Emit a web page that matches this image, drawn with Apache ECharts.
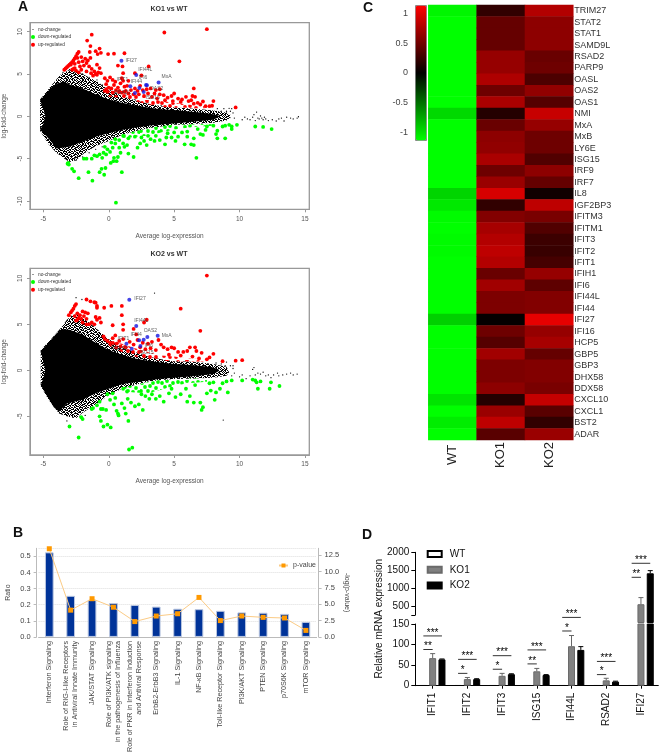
<!DOCTYPE html>
<html><head><meta charset="utf-8">
<style>html,body{margin:0;padding:0;background:#fff}#c{width:660px;height:755px}</style>
<script src="https://cdn.jsdelivr.net/npm/echarts@6/dist/echarts.min.js"></script>
</head><body><div id="c"></div>
<script>
// ---------- Panel A: KO1 vs WT ----------
const ko1SolidCloud=[[-5.25,1.9],[-4.9,2.5],[-4.4,3.4],[-3.9,3.9],[-3.4,4.1],[-2.9,3.7],[-2,3.3],[-1,2.6],[0,2],[1,1.6],[2,1.3],[3,1.05],[4,.85],[5,.75],[6,.6],[7,.45],[8,.25],[8.4,.1],[8.4,-.1],[8,-.4],[7,-.55],[6,-.7],[5,-.85],[4,-.95],[3,-1.1],[2,-1.35],[1,-1.6],[0,-2],[-1,-2.4],[-2,-3],[-3,-3.6],[-4,-3.8],[-4.4,-3],[-4.9,-2.1],[-5.25,-1.6],[-5,-.9],[-4.85,0],[-5,.9]];
const ko1FringeCloud=[[-5.25,2],[-4.4,3.6],[-3.7,4.9],[-3,5.5],[-2,5],[-1.5,4.6],[-1,4.2],[0,3.2],[1,2.4],[2,1.9],[3,1.5],[4,1.2],[5,1.05],[6,.95],[7,.85],[8,.7],[8.8,.5],[9.3,.2],[9.3,-.2],[9,-.5],[8,-.75],[7,-.85],[6,-.95],[5,-1],[4,-1.2],[3,-1.4],[2,-1.75],[1,-2.2],[0,-2.9],[-1,-3.5],[-2,-4.5],[-2.5,-5.2],[-3,-5.4],[-3.5,-4.9],[-4,-4.3],[-4.6,-3.3],[-5.25,-1.7]];
const ko1RedCloud=[[-.4,3.1],[1,2.9],[2,2.6],[3,2.2],[4,1.8],[5,1.6],[6,1.4],[7.3,1.2],[7.3,.9],[6,1],[5,1.05],[4,1.1],[3,1.4],[2,1.8],[1,2.2],[0,2.3]];
const ko1GreenCloud=[[1,-2.2],[2,-1.75],[3,-1.4],[4,-1.1],[5,-1],[6,-.95],[7,-.9],[8,-.9],[8,-1.1],[7,-1.2],[6,-1.35],[5,-1.55],[4,-1.9],[3,-2.3],[2,-2.4],[1,-2.7]];
const ko1NoChange=[[-3.3,-5],[-2.5,-5.2],[-2.4,-4.7],[-2.6,-5],[-2,-4.8],[-1.5,-4.3],[-1,-3.9],[-.5,-3.6],[-3.5,5.2],[-3,5.5],[-2.6,5.2],[-2,5],[-1.5,4.6],[-.9,4.3],[-.5,3.7],[0,3.3],[.6,3],[1.3,2.5],[2,2],[3,1.6],[4,1.3],[8.3,.9],[8.6,.6],[8.8,.9],[9,.5],[9.2,.95],[9.3,.6],[9,.6],[9.4,.9],[9.5,.4],[9.6,-.2],[10.2,-.4],[10.4,-.1],[10.6,-.3],[10.8,-.4],[11,-.1],[11.1,.2],[11.2,-.5],[11.3,.5],[11.4,-.2],[11.5,-.3],[11.6,.05],[11.7,-.2],[11.8,-.4],[11.9,-.1],[12,-.3],[12.2,-.5],[12.5,-.4],[12.8,-.55],[13,-.3],[13.2,-.2],[13.4,-.55],[13.6,-.1],[13.9,-.2],[14.1,-.3],[14.4,-.2],[14.5,-.05]];
const ko1Up=[[-3.4,5.5],[-3.3,5.65],[-3.2,5.8],[-3.1,5.95],[-3,6.1],[-2.9,6.25],[-2.8,6.4],[-2.7,6.6],[-2.6,6.85],[-2.5,7.1],[-2.4,7.4],[-2.3,7.6],[-1.3,9.65],[-1.65,8.95],[-1.4,8.3],[-.7,8],[-1,7.7],[-.85,7.35],[-.6,7.5],[-1.45,7.6],[-.05,7.35],[.4,7.4],[1.2,7.45],[4.25,9.9],[7.5,10.3],[5.4,6.5],[3.05,5.9],[1.05,5.9],[.7,6],[1.1,5.1],[2,5.1],[2.5,4.85],[9.7,1.05],[8,1.8],[7.2,1.75],[6.5,3.3],[-2.9,6.1],[-2.7,5.6],[-2.6,6.2],[-2.5,5.4],[-2.4,6.9],[-2.3,6.4],[-2.2,5.9],[-2.1,7],[-2.1,5.5],[-2,6.5],[-1.9,6],[-1.8,6.8],[-1.7,5.3],[-1.7,6.3],[-1.6,6.6],[-1.5,5.9],[-1.4,6.9],[-1.35,5.1],[-1.3,5.6],[-1.2,4.8],[-1.1,5.3],[-.9,6.1],[-.7,5.7],[-.6,5.1],[-1,5],[-.9,4.9],[-.8,5.2],[-2.3,5.2],[-2.6,5.7],[-2.8,5.5],[-.3,4.5],[-.1,4.2],[.1,4.6],[.3,4.3],[-.2,3.8],[.5,4.1],[.7,3.4],[.9,3.9],[1,4.5],[1.1,4.2],[1.5,4.2],[1.4,3.6],[1.2,3.5],[.4,3.7],[.2,3.3],[-.2,3.2],[0,3.4],[.55,3.1],[.8,3],[1,2.8],[1.3,3],[1.7,3.1],[2,3.3],[2.2,3],[2.4,3.6],[2.6,3.1],[2.9,3.2],[3.2,3.3],[3.6,3.1],[3.9,3.2],[3.9,2.6],[3.5,2.7],[3,2.7],[2.7,2.4],[4.2,2.5],[4.5,2.2],[4.8,2.4],[5,2.7],[5.3,2.1],[5.6,2],[5.9,2.3],[6.1,1.8],[6.4,2.4],[6.6,2.3],[6.3,1.9],[6.8,1.6],[7.4,1.2],[7.7,1.2],[7.9,1.25],[7,1.4],[6.5,1.5],[5.5,1.7],[4.9,1.8],[4.3,1.9],[3.7,2.1],[3.3,2.3],[2.3,2.6],[1.9,2.6],[1.5,2.7],[1.2,2.9],[.3,2.8],[-.1,2.9],[-.3,3]];
const ko1Down=[[-3.15,-5.6],[-3.05,-5.7],[-3.1,-5.5],[-2.8,-6.2],[-2.65,-6.5],[-2.3,-7.3],[-1.55,-6.6],[-1.25,-7.6],[-.7,-6.6],[-.55,-6.2],[-.35,-6.9],[-.25,-6.1],[1,-6.6],[.55,-10.2],[-1.9,-5],[-1.7,-5],[-1.3,-5],[-1.1,-4.6],[-.9,-4.7],[-.7,-4.5],[-.5,-4.9],[-.4,-4.3],[-.3,-3.6],[-.2,-4.5],[-.1,-3.9],[.1,-4.2],[.2,-3.1],[.3,-3.7],[.4,-4.9],[.15,-5.5],[.6,-5.3],[.7,-4.8],[.35,-5.3],[.5,-3.2],[.8,-3.7],[.9,-4.3],[1.1,-3.2],[1.2,-3.6],[1.4,-3.4],[1.5,-4.4],[1.9,-4.8],[2.2,-3.7],[2.4,-3.2],[2.7,-2.9],[2.9,-3.4],[3.2,-2.7],[3.5,-2.9],[3.9,-2.8],[4.3,-3.3],[4.4,-2.5],[4.8,-2.5],[5.1,-2.9],[5.3,-2.4],[5.8,-3.3],[6,-2.4],[6.3,-3.3],[6.5,-3.4],[6.5,-2.6],[6.7,-4.9],[7,-2.1],[7.2,-2.2],[7.4,-1.6],[8.2,-2.1],[8.3,-2.6],[8.9,-2.6],[8.3,-1.7],[8.7,-1.2],[8.9,-1.1],[9.2,-1],[9.4,-1.2],[9.4,-1.5],[9.8,-1],[11.2,-1.2],[11.8,-1.25],[12.45,-1.5],[5.6,-1.9],[5,-1.9],[4.5,-2],[3.6,-2.3],[3,-2.3],[2.5,-2.5],[2,-2.4],[1.5,-2.6],[1.1,-2.3],[.8,-2.8],[.5,-2.7],[6,-1.8],[6.8,-1.5],[7.5,-1.2],[8,-1.1]];
const ko1Genes=[['IFI27',.97,6.57],['IFI44L',2.1,4.88],['MxA',3.81,4],['IFI6',2.85,3.7],['OAS2',2.92,3.66],['IFIT1',1.65,3.54],['IFI44',2.34,3.35],['RSAD2',2,2.76],['ISG15',2.67,2.87]];

// ---------- Panel A: KO2 vs WT ----------
const ko2SolidCloud=[[-5.2,2.1],[-4.6,3],[-4,4],[-3.6,4.5],[-3,4.4],[-2,3.9],[-1,3],[0,2.2],[1,1.7],[2,1.3],[3,1.05],[4,.85],[5,.7],[6,.6],[7,.5],[8,.3],[8.4,.1],[8.4,-.1],[8,-.4],[7,-.55],[6,-.7],[5,-.8],[4,-.9],[3,-1.1],[2,-1.3],[1,-1.5],[0,-2],[-1,-2.5],[-2,-3.2],[-3.2,-3.6],[-3.8,-4.5],[-4.2,-4],[-4.8,-2.6],[-5.2,-1.6],[-5,-.9],[-4.85,0],[-5,.9]];
const ko2FringeCloud=[[-5.2,2.2],[-4.4,3.4],[-3.6,4.7],[-3.2,5.5],[-2.8,6],[-2.4,6.1],[-1.5,5.2],[-1,4.6],[0,3.4],[1,2.5],[2,2],[3,1.5],[4,1.2],[5,1],[6,.95],[7,.85],[8,.7],[9,.4],[9.2,-.2],[9,-.6],[8,-.8],[7,-.85],[6,-.9],[5,-.95],[4,-1.05],[3,-1.2],[2,-1.6],[1,-2],[0,-2.7],[-1,-3.7],[-2,-4.6],[-2.5,-5.2],[-3.2,-5],[-3.8,-4.7],[-4.6,-3.2],[-5.2,-1.7]];
const ko2RedCloud=[[-.3,3.5],[1,2.9],[2,2.4],[3,2],[4,1.6],[5,1.5],[6,1.3],[7.3,1.2],[7.3,.95],[6,.95],[5,1],[4,1.05],[3,1.2],[2,1.5],[1,2],[0,2.7]];
const ko2GreenCloud=[[1.2,-1.8],[2,-1.6],[3,-1.3],[4,-1],[5,-.95],[6,-.9],[7.5,-.85],[7.5,-1.25],[6,-1.4],[5,-1.7],[4,-2.1],[3,-2.5],[2,-2.4],[1.2,-2.3]];
const ko2NoChange=[[3.5,8.4],[-2.5,7.9],[-2.05,7.7],[8.75,-5.4],[-3.2,-5.5],[-2.75,-5.1],[-3,-5],[-2.2,-5],[-1.8,-4.9],[-3.6,-4.7],[8.2,.8],[8.6,.7],[8.9,.5],[9,.9],[9.3,.5],[9.5,.2],[9.5,.5],[9.4,-.6],[9.6,-.3],[10,-.7],[10.2,-.5],[10.5,-.9],[10.8,-.6],[11,.1],[11.1,.3],[11.2,-.5],[11.4,-.3],[11.6,-.4],[11.8,-.2],[12,-.6],[12.2,-.5],[12.4,-.8],[12.6,-.5],[12.9,-.3],[13,-.6],[13.3,-.5],[13.6,-.4],[13.9,-.3],[14.1,-.5],[14.4,-.4]];
const ko2Up=[[7.5,10.3],[5.5,6.7],[7,4.3],[2.9,5.5],[2.7,5.2],[-3.05,6],[-2.9,6.3],[-2.8,6.5],[-2.7,6.7],[-2.6,7],[-2.5,7.2],[-1.7,7.7],[-1.4,7.5],[-1.1,7.4],[-1,7.35],[-.9,7],[-.9,6.8],[-.35,6.8],[.2,7],[1,7],[1,6],[-2.4,6.2],[-2.3,5.7],[-2.2,6],[-2.1,5.6],[-2,6.4],[-1.9,5.9],[-1.8,6.3],[-1.7,5.6],[-1.6,6.2],[-2.4,5.5],[-1.5,5],[-1.3,5.2],[-1.1,5],[-1,5.8],[-.9,5.5],[-.7,5.7],[-.6,5.2],[-2.6,5.9],[-2.5,5.4],[-1.7,5],[-2,5.2],[.3,4.9],[1.1,5],[1.1,4.4],[1.9,4.5],[2.1,3.9],[-.4,3.7],[-.3,3.4],[-.1,3.2],[.1,3],[.3,3.5],[.5,3.8],[.6,2.9],[.8,3.2],[.9,2.6],[1.1,3.4],[1.3,2.5],[1.6,3.1],[1.9,2.8],[2.2,3.3],[2.6,3],[3,2.9],[3.3,3.1],[3.8,3.3],[4,2.8],[4.2,2.5],[4.5,2.3],[4.8,2.5],[5,2.4],[5.3,2],[5.7,2],[6,2.1],[6.2,2.5],[6.6,2.5],[6.7,2.1],[7.1,1.9],[7.7,1.4],[8,1.8],[7.5,1.2],[6.9,1.3],[6.4,1.5],[5.5,1.6],[4.6,1.7],[3.6,2.2],[3.2,2.4],[2.8,2.3],[2.4,2.5],[8.7,1],[9.7,1.05],[10.2,1.1]];
const ko2Down=[[-3,-6.1],[-2.3,-7.3],[-2.1,-5.1],[-2,-5.3],[-1.3,-4.2],[-1.2,-4.1],[-.9,-3.8],[-.7,-3.4],[-.6,-4.2],[-.45,-4.2],[-.7,-5],[-.6,-5.5],[-.4,-6.1],[-.1,-5.9],[.15,-6.2],[-.2,-4.3],[-.1,-2.6],[.1,-3.2],[.3,-2.5],[.4,-3.7],[.5,-3],[.6,-4.4],[.7,-4.7],[.75,-4.9],[1,-3.6],[1.2,-4.1],[1.3,-4.7],[1.5,-5.5],[1.55,-8.6],[1.8,-8.4],[1.45,-3.1],[1.7,-3.5],[2,-3.9],[2.3,-3.7],[2.6,-4.3],[2.8,-2.8],[3.1,-3.1],[3.6,-3.1],[3.9,-2.8],[4.2,-3.4],[4.6,-2.5],[5.1,-2.9],[5.5,-2.6],[6,-3.4],[6.2,-2.8],[6.5,-3.5],[7,-3.5],[7.1,-4.3],[7.2,-4],[7.5,-2.5],[7.8,-2.2],[8.1,-3.2],[8.2,-2.4],[8.5,-2],[8.7,-1.4],[9.1,-2.4],[9,-1.2],[9.4,-1.1],[10.2,-1.1],[11,-1],[11.2,-1.1],[11.3,-1.3],[11.4,-2],[11.6,-1.2],[12.3,-2],[12.4,-1.3],[13.05,-1.7],[1.1,-2],[1.4,-2.3],[2.5,-2.6],[3.3,-2.6],[4.8,-2],[5.9,-2],[6.6,-1.6],[7.7,-1.4],[8,-1.3]];
const ko2Genes=[['IFI27',1.57,7.68],['IFI44L',2.1,4.82],['OAS2',2.95,3.62],['MxA',3.74,3.77],['IFI44',2.32,3.26],['IFIT1',1.35,2.9],['IFI6',2.67,3.33],['RSAD2',1.76,2.36],['ISG15',2.42,2.64]];

const maTicksX=[-5,0,5,10,15];
const ko1TicksY=[-10,-5,0,5,10];
const ko2TicksY=[-5,0,5,10];

// ---------- Panel B ----------
const pathways=['Interferon Signaling','Role of RIG-I-like Receptors\nin Antiviral Innate Immunity','JAK/STAT Signaling','Role of PI3K/ATK signaling\nin the pathogenesis of Influenza','Role of PKR in Interferon Induction\nand Antiviral Response','ErbB2-ErbB3 Signaling','IL-1 Signaling','NF-κB Signaling','Toll-like Receptor Signaling','PI3K/AKT Signaling','PTEN Signaling','p70S6K Signaling','mTOR Signaling'];
const ratioValues=[.525,.255,.23,.21,.198,.188,.175,.172,.162,.152,.15,.143,.093];
const pValues=[13.5,4.1,5.85,4.55,2.35,3.2,3.55,6.05,2.5,3.2,3,2.9,1];

// ---------- Panel C ----------
const heatGenes=['TRIM27','STAT2','STAT1','SAMD9L','RSAD2','PARP9','OASL','OAS2','OAS1','NMI','MxA','MxB','LY6E','ISG15','IRF9','IRF7','IL8','IGF2BP3','IFITM3','IFITM1','IFIT3','IFIT2','IFIT1','IFIH1','IFI6','IFI44L','IFI44','IFI27','IFI16','HCP5','GBP5','GBP3','DHX58','DDX58','CXCL10','CXCL1','BST2','ADAR'];
const heatSamples=['WT','KO1','KO2'];
const wtValues=[-1.1,-1.14,-1.14,-1.14,-1.14,-1.14,-1.14,-1.14,-1.14,-.97,-1.14,-1.14,-1.14,-1.14,-1.14,-1.14,-.95,-1.04,-1.12,-1.14,-1.12,-1.12,-1.14,-1.14,-1.14,-1.14,-1.14,-.93,-1.14,-1.14,-1.14,-1.14,-1.14,-1.14,-1.02,-1.14,-1.06,-1.14];
const ko1Values=[.22,.45,.45,.45,.67,.67,.78,.49,.76,.16,.47,.63,.65,.76,.49,.69,.96,.22,.58,.74,.8,.85,.8,.47,.72,.56,.56,.02,.49,.38,.72,.56,.56,.63,.16,.69,.85,.4];
const ko2Values=[.8,.63,.63,.63,.47,.49,.34,.65,.38,.89,.67,.49,.49,.36,.63,.45,.07,.85,.54,.36,.27,.25,.31,.67,.42,.58,.58,1.03,.67,.74,.45,.58,.58,.54,.87,.4,.22,.69];
const colorbarTicks=[-1,-.5,0,.5,1];

// ---------- Panel D ----------
const qpcrGenes=['IFIT1','IFIT2','IFIT3','ISG15','IFI44L','RSAD2','IFI27'];
const qpcrWT=[1,1,1,1,1,1,1];
const qpcrKO1=[67,16,24,35,96,13,550];
const qpcrKO2=[64,16,28,26,87,10,1414];
const qpcrKO1Err=[11,4,6,7,26,5,185];
const qpcrKO2Err=[1,1,1,1,8,1,74];
const qpcrLowTicks=[0,50,100,150];
const qpcrHighTicks=[500,1000,1500,2000];
const qpcrHighMarks=[250,500,1000,1500,2000];
// gene index, height, last bar spanned (1 KO1, 2 KO2), number of stars
const lowBrackets=[[0,88,1,2],[0,121,2,3],[1,30,1,1],[1,64,2,3],[2,40,1,1],[2,73,2,3],[3,53,1,2],[3,87,2,3],[4,133,1,1],[4,166,2,3],[5,27,1,1],[5,59,2,3]];
const highBrackets=[[6,1302,1,2],[6,1693,2,3]];

// ---------- build ----------
const FONT='"Liberation Sans",Arial,sans-serif';
const BOX={ma1:{left:29.3,top:22.7,width:280,height:186.6},ma2:{left:29.3,top:268.3,width:280,height:186.7}};
const genePlace={ko1:{IFI27:['right',[0,0]],IFI44L:['top',[9,1]],MxA:['top',[8,1]],IFI6:['top',[-3,-1]],OAS2:['right',[-1,3]],IFIT1:['top',[-8,0]],IFI44:['top',[-3,0]],RSAD2:['left',[0,0]],ISG15:['bottom',[9,-1]]},
 ko2:{IFI27:['right',[1,-1]],IFI44L:['top',[5,1]],OAS2:['top',[3,0]],MxA:['right',[0,0]],IFI44:['top',[-3,1]],IFIT1:['top',[-3,1]],IFI6:['bottom',[5,-1]],RSAD2:['left',[0,0]],ISG15:['bottom',[6,0]]}};

// Texture tiles for the parts of the clouds where single points can no longer be told apart.
const speckleRows=['1011010010110100','0110111001001011','1101001011100110','0100110110011101','1011100100110010','0110011011011001','1001101000101110','1110010110110001','0010111001001101','1101000111010110','0111011000111010','1000110101100101','1011001110010011','0101100100111100','1110101011000110','0011010110101001'];
function speckleTile(){
  const c=document.createElement('canvas');c.width=c.height=16;const g=c.getContext('2d');g.fillStyle='#000';
  speckleRows.forEach((r,y)=>[...r].forEach((v,x)=>{if(v==='1')g.fillRect(x,y,1,1);}));
  return {image:c,repeat:'repeat'};
}
const blobSpots=[[2,3],[7,1],[13,3],[18,2],[5,7],[10,6],[16,8],[1,11],[8,11],[13,12],[19,12],[4,16],[10,17],[16,17]];
function blobTile(color){
  const c=document.createElement('canvas');c.width=c.height=20;const g=c.getContext('2d');g.fillStyle=color;
  blobSpots.forEach(([x,y])=>{g.beginPath();g.arc(x,y,1.9,0,Math.PI*2);g.fill();});
  return {image:c,repeat:'repeat'};
}
function polygonSeries(pts,xi,yi,fill,z){
  return {type:'custom',coordinateSystem:'cartesian2d',xAxisIndex:xi,yAxisIndex:yi,silent:true,z,
    data:pts,encode:{x:0,y:1},
    renderItem(p,api){ if(p.dataIndex!==0) return;
      return {type:'polygon',shape:{points:pts.map(q=>api.coord(q))},style:{fill}}; }};
}
function scatter(name,pts,i,color,size,z){
  return {name,type:'scatter',xAxisIndex:i,yAxisIndex:i,data:pts,symbolSize:size,z,
    itemStyle:{color,opacity:1},silent:true};
}
function maSeries(i,d){
  return [
    polygonSeries(d.fringe,i,i,speckleTile(),2),
    polygonSeries(d.solid,i,i,'#000',3),
    scatter('no-change',d.none,i,'#000',1.3,4),
    polygonSeries(d.red,i,i,blobTile('#f00'),5),
    polygonSeries(d.green,i,i,blobTile('#0f0'),5),
    scatter('up-regulated',d.up,i,'#f00',3.8,6),
    scatter('down-regulated',d.down,i,'#0f0',3.8,6),
    {type:'scatter',xAxisIndex:i,yAxisIndex:i,symbolSize:4,z:7,silent:true,itemStyle:{color:'#1515e0'},
     data:d.genes.map(g=>{const pl=d.place[g[0]];return {name:g[0],value:[g[1],g[2]],
       label:{show:true,formatter:g[0],position:pl[0],offset:pl[1],fontSize:5,color:'#333',fontFamily:FONT,distance:2}};})}
  ];
}
function maAxes(grid,ticksY,minY,maxY){
  const line={show:true,onZero:false,lineStyle:{color:'#999',width:1}};
  return {
    x:{type:'value',gridIndex:grid,min:-6.02,max:15.33,name:'Average log-expression',nameLocation:'middle',nameGap:23,
       nameTextStyle:{fontSize:6.5,color:'#555',fontFamily:FONT},splitLine:{show:false},axisLine:line,
       axisTick:{show:true,length:3,customValues:maTicksX,lineStyle:{color:'#999'}},
       axisLabel:{customValues:maTicksX,fontSize:6.5,color:'#555',margin:6,fontFamily:FONT}},
    y:{type:'value',gridIndex:grid,min:minY,max:maxY,name:'log-fold-change',nameLocation:'middle',nameGap:22,
       nameTextStyle:{fontSize:6.5,color:'#555',fontFamily:FONT},splitLine:{show:false},axisLine:line,
       axisTick:{show:true,length:3,customValues:ticksY,lineStyle:{color:'#999'}},
       axisLabel:{customValues:ticksY,fontSize:6.5,color:'#555',rotate:90,margin:6,fontFamily:FONT}}
  };
}
const ma1=maAxes(0,ko1TicksY,-10.98,11.06), ma2=maAxes(1,ko2TicksY,-9.2,11.09);

const heatData=[];
[wtValues,ko1Values,ko2Values].forEach((col,c)=>col.forEach((v,r)=>heatData.push([c,r,v])));

const BAR_STEP=9.3;
function errorSeries(rows,xi,yi){
  return {type:'custom',xAxisIndex:xi,yAxisIndex:yi,silent:true,z:4,data:rows,encode:{x:0,y:1},
    renderItem(p,api){
      const g=api.value(0),top=api.value(1),err=api.value(2),which=api.value(3);
      const off=which===1?0:BAR_STEP;
      const a=api.coord([g,top]),b=api.coord([g,top+err]);
      const x=a[0]+off,col=which===1?'#666':'#000';
      return {type:'group',children:[
        {type:'line',shape:{x1:x,y1:a[1],x2:x,y2:b[1]},style:{stroke:col,lineWidth:1}},
        {type:'line',shape:{x1:x-2.5,y1:b[1],x2:x+2.5,y2:b[1]},style:{stroke:col,lineWidth:1}}]};
    }};
}
function bracketSeries(rows,xi,yi){
  return {type:'custom',xAxisIndex:xi,yAxisIndex:yi,silent:true,z:5,clip:false,data:rows,encode:{x:0,y:1},
    renderItem(p,api){
      const g=api.value(0),h=api.value(1),span=api.value(2),n=api.value(3);
      const c=api.coord([g,h]);
      const x1=c[0]-BAR_STEP,x2=c[0]+(span===1?0:BAR_STEP);
      return {type:'group',children:[
        {type:'line',shape:{x1,y1:c[1],x2,y2:c[1]},style:{stroke:'#333',lineWidth:1}},
        {type:'text',style:{text:'*'.repeat(n),x:(x1+x2)/2,y:c[1]+2,align:'center',verticalAlign:'bottom',fontSize:10,fontFamily:FONT,fill:'#000'}}]};
    }};
}
const lowErr=[],highErr=[];
qpcrGenes.forEach((g,i)=>{
  const t=(i===6)?highErr:lowErr;
  t.push([i,qpcrKO1[i],qpcrKO1Err[i],1]);t.push([i,qpcrKO2[i],qpcrKO2Err[i],2]);
});
function qpcrBars(xi,yi,pick){
  const mk=(name,vals,color,border)=>({name,type:'bar',xAxisIndex:xi,yAxisIndex:yi,barWidth:7,barGap:'33%',
    data:vals.map((v,i)=>pick(i)?v:'-'),itemStyle:{color,borderColor:border,borderWidth:1},z:3,silent:true});
  return [mk('WT',qpcrWT,'#fff','#000'),mk('KO1',qpcrKO1,'#808080','#6a6a6a'),mk('KO2',qpcrKO2,'#000','#000')];
}
const blackLine={show:true,lineStyle:{color:'#000',width:1}};
const dTxt={fontSize:10,color:'#111',fontFamily:FONT};
const tinyDot='path://M0 0h.01v.01h-.01zM4 4h2v2H4zM10 10h.01v.01h-.01z';
const maLegend=top=>({left:31,top,orient:'vertical',itemWidth:4,itemHeight:4,itemGap:2.6,padding:0,icon:'circle',selectedMode:false,
  data:[{name:'no-change',icon:tinyDot},'down-regulated','up-regulated'],textStyle:{fontSize:4.8,color:'#333',padding:[0,0,0,-2],fontFamily:FONT}});
const letter=(text,left,top)=>({text,left,top,padding:0,textStyle:{fontSize:14,fontWeight:'bold',color:'#111',fontFamily:FONT}});
const maTitle=(text,top)=>({text,left:169,top,padding:0,textAlign:'center',textStyle:{fontSize:7,fontWeight:'bold',color:'#333',fontFamily:FONT}});

const option={
  animation:false,backgroundColor:'#fff',textStyle:{fontFamily:FONT},
  title:[letter('A',18,0),letter('B',13,526),letter('C',363,1),letter('D',362,528),maTitle('KO1 vs WT',5.5),maTitle('KO2 vs WT',250.5)],
  legend:[
    maLegend(27),maLegend(272),
    {left:278,top:562,itemWidth:9,itemHeight:5,padding:0,selectedMode:false,data:['p-value'],textStyle:{fontSize:7,color:'#444',fontFamily:FONT}},
    {left:426.7,top:549,orient:'vertical',itemWidth:14,itemHeight:6,itemGap:5.8,padding:0,icon:'rect',selectedMode:false,
     data:['WT','KO1','KO2'],textStyle:{fontSize:10,color:'#111',padding:[0,0,0,3],fontFamily:FONT}}
  ],
  visualMap:[{type:'continuous',seriesIndex:16,min:-1.14,max:1.14,left:415,top:5,itemWidth:11,itemHeight:135,padding:0,
    calculable:false,hoverLink:false,realtime:false,text:null,showLabel:false,borderColor:'#888',borderWidth:1,
    inRange:{color:['#00ff00','#000000','#ff0000']}}],
  grid:[
    {...BOX.ma1,show:true,borderColor:'#999',borderWidth:1.3,backgroundColor:'transparent'},
    {...BOX.ma2,show:true,borderColor:'#999',borderWidth:1.3,backgroundColor:'transparent'},
    {left:38.6,top:548.3,width:278,height:97.7},
    {left:428.3,top:5,width:145,height:435},
    {left:415,top:5,width:11,height:135.7},
    {left:415.3,top:624,width:243,height:61.7},
    {left:415.3,top:552.3,width:243,height:70.2},
    {left:415.3,top:552.3,width:243,height:62.7}
  ],
  xAxis:[
    ma1.x,ma2.x,
    {type:'category',gridIndex:2,data:pathways,axisTick:{show:false},axisLine:{lineStyle:{color:'#bbb'}},
     axisLabel:{interval:0,rotate:90,align:'right',verticalAlign:'middle',fontSize:7.2,lineHeight:9,color:'#444',margin:4,fontFamily:FONT}},
    {type:'category',gridIndex:3,data:heatSamples,axisLine:{show:false},axisTick:{show:false},
     axisLabel:{rotate:90,align:'center',fontSize:13,color:'#222',margin:15,fontFamily:FONT}},
    {type:'value',gridIndex:4,show:false,min:0,max:1},
    {type:'category',gridIndex:5,data:qpcrGenes,axisLine:blackLine,axisTick:{show:true,length:3,alignWithLabel:true,lineStyle:{color:'#000'}},
     axisLabel:{rotate:90,interval:0,align:'right',verticalAlign:'middle',margin:7,...dTxt}},
    {type:'category',gridIndex:6,data:qpcrGenes,show:false},
    {type:'value',gridIndex:7,show:false,min:0,max:1}
  ],
  yAxis:[
    ma1.y,ma2.y,
    {type:'value',gridIndex:2,min:0,max:.55,interval:.1,offset:2,name:'Ratio',nameLocation:'middle',nameGap:25,nameRotate:90,
     nameTextStyle:{fontSize:7,color:'#444',fontFamily:FONT},
     axisLine:{show:true,lineStyle:{color:'#bbb'}},axisTick:{show:true,length:3,lineStyle:{color:'#bbb'}},
     splitLine:{show:true,lineStyle:{color:'#ddd',type:'dotted',width:1}},
     axisLabel:{fontSize:7.5,color:'#444',margin:6,fontFamily:FONT,showMaxLabel:false,formatter:v=>v.toFixed(1)}},
    {type:'value',gridIndex:2,position:'right',min:0,max:13.57,interval:2.5,offset:2,name:'-log(p-value)',nameLocation:'middle',nameGap:24,nameRotate:-90,
     nameTextStyle:{fontSize:7,color:'#444',fontFamily:FONT},
     axisLine:{show:true,lineStyle:{color:'#bbb'}},axisTick:{show:true,length:3,lineStyle:{color:'#bbb'}},splitLine:{show:false},
     axisLabel:{fontSize:7.5,color:'#444',margin:6,fontFamily:FONT,showMaxLabel:false,formatter:v=>v.toFixed(1)}},
    {type:'category',gridIndex:3,data:heatGenes,inverse:true,position:'right',axisLine:{show:false},axisTick:{show:false},
     axisLabel:{interval:0,fontSize:9,color:'#333',margin:1,fontFamily:FONT}},
    {type:'value',gridIndex:4,min:-1.14,max:1.14,axisLine:{show:false},axisTick:{show:false},splitLine:{show:false},
     axisLabel:{customValues:colorbarTicks,fontSize:9,color:'#444',margin:7,fontFamily:FONT}},
    {type:'value',gridIndex:5,min:0,max:150,interval:50,
     axisLine:blackLine,axisTick:{show:true,length:4,lineStyle:{color:'#000'}},splitLine:{show:false},
     axisLabel:{customValues:qpcrLowTicks,margin:6,formatter:v=>String(v),...dTxt}},
    {type:'value',gridIndex:6,min:40,max:2000,show:false,splitLine:{show:false}},
    {type:'value',gridIndex:7,min:250,max:2000,axisLine:blackLine,splitLine:{show:false},
     axisTick:{show:true,length:4,customValues:qpcrHighMarks,lineStyle:{color:'#000'}},
     axisLabel:{customValues:qpcrHighTicks,margin:6,formatter:v=>String(v),...dTxt}}
  ],
  graphic:[{type:'text',rotation:Math.PI/2,x:379,y:618.7,style:{text:'Relative mRNA expression',align:'center',verticalAlign:'middle',fontSize:10,fill:'#111',fontFamily:FONT}}],
  series:[
    ...maSeries(0,{fringe:ko1FringeCloud,solid:ko1SolidCloud,none:ko1NoChange,red:ko1RedCloud,green:ko1GreenCloud,up:ko1Up,down:ko1Down,genes:ko1Genes,place:genePlace.ko1}),
    ...maSeries(1,{fringe:ko2FringeCloud,solid:ko2SolidCloud,none:ko2NoChange,red:ko2RedCloud,green:ko2GreenCloud,up:ko2Up,down:ko2Down,genes:ko2Genes,place:genePlace.ko2}),
    {type:'heatmap',xAxisIndex:3,yAxisIndex:4,data:heatData,silent:true,emphasis:{disabled:true}},
    {name:'Ratio',type:'bar',xAxisIndex:2,yAxisIndex:2,data:ratioValues,barWidth:8.7,silent:true,z:2,
     itemStyle:{color:'#003399',borderColor:'#b9c6e0',borderWidth:1}},
    {name:'p-value',type:'line',xAxisIndex:2,yAxisIndex:3,data:pValues,symbol:'rect',symbolSize:5,clip:false,silent:true,z:3,
     lineStyle:{color:'#fbcb85',width:1},itemStyle:{color:'#f90'}},
    ...qpcrBars(5,6,()=>true),
    ...qpcrBars(6,7,i=>i===6),
    errorSeries(lowErr,5,6),errorSeries(highErr,6,7),
    bracketSeries(lowBrackets,5,6),bracketSeries(highBrackets,6,7)
  ]
};
echarts.init(document.getElementById('c'),null,{renderer:'canvas'}).setOption(option);
</script></body></html>
